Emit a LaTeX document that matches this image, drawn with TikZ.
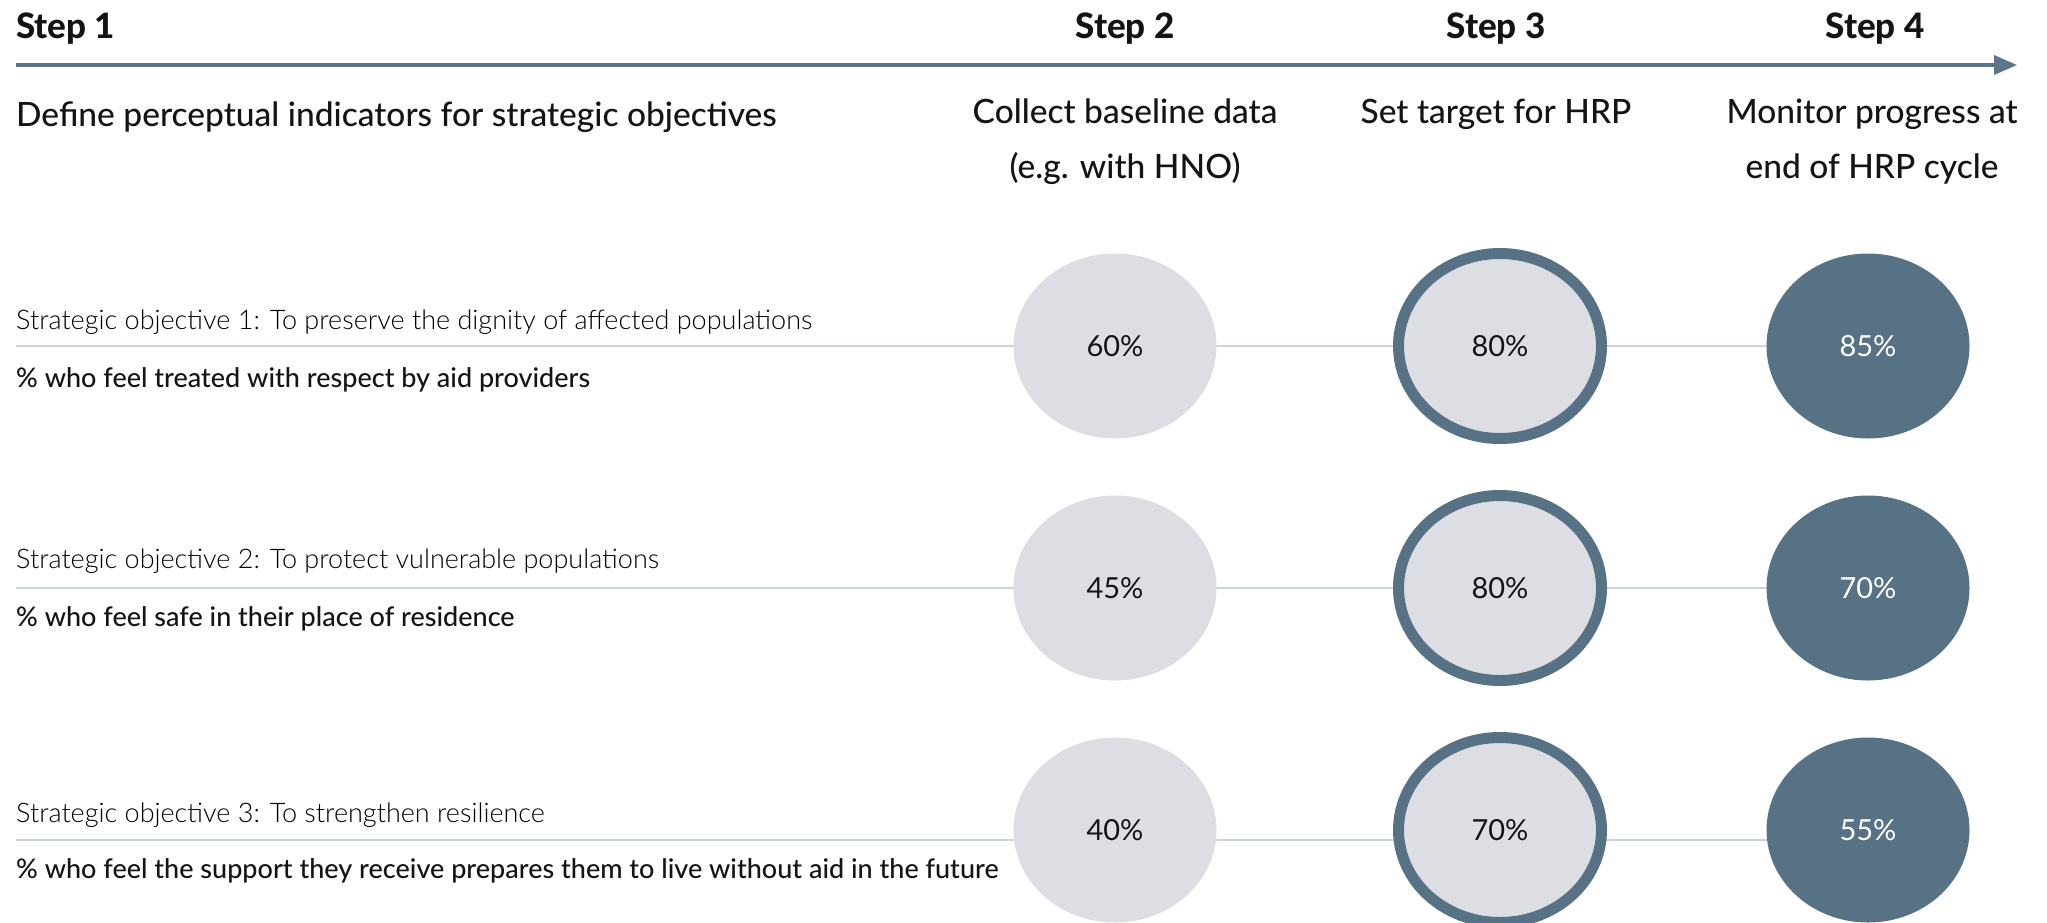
\documentclass[tikz,border=0pt]{standalone}
\usepackage{fontspec}
\setmainfont{Lato}
\newfontfamily\lightfont{Lato Light}
\newfontfamily\medfont{Lato Medium}
\newfontfamily\heavyfont{Lato Heavy}
\usetikzlibrary{shapes.geometric,arrows.meta}
\definecolor{slate}{HTML}{587285}
\definecolor{lightfill}{HTML}{DDDEE3}
\definecolor{rowcol}{HTML}{CBD3DC}
\definecolor{arrowcol}{HTML}{5C7588}
\definecolor{ink}{HTML}{141414}
\pgfdeclarelayer{bg}
\pgfsetlayers{bg,main}
\begin{document}
\begin{tikzpicture}[x=1pt,y=-1pt,
  stepl/.style={font=\heavyfont\fontsize{35}{42}\selectfont, inner sep=0, text=ink},
  head/.style={font=\medfont\fontsize{33.5}{40}\selectfont, inner sep=0, text=ink},
  objt/.style={font=\lightfont\fontsize{27}{32}\selectfont, anchor=base west, inner sep=0, text=black},
  indt/.style={font=\medfont\fontsize{27}{32}\selectfont, anchor=base west, inner sep=0, text=ink},
  circbase/.style={ellipse, minimum width=203pt, minimum height=185pt, inner sep=0, font=\fontsize{29}{34}\selectfont},
  basec/.style={circbase, fill=lightfill, text=ink},
  targetc/.style={circbase, fill=lightfill, draw=slate, line width=11pt, text=ink},
  progc/.style={circbase, fill=slate, text=white},
  rowline/.style={draw=rowcol, line width=2pt},
  timeline/.style={draw=arrowcol, line width=3.5pt, -{Triangle[length=23pt,width=19pt]}}]
\useasboundingbox (0,0) rectangle (2047,922);

% timeline
\coordinate (ts) at (16,65);
\coordinate (te) at (2017,65);
\draw[timeline] (ts) -- (te);

% step labels
\node[stepl, anchor=base west] (s1) at (16,38) {Step 1};
\node[stepl, anchor=base] (s2) at (1125,38) {Step 2};
\node[stepl, anchor=base] (s3) at (1496,38) {Step 3};
\node[stepl, anchor=base] (s4) at (1875,38) {Step 4};

% step descriptions
\node[head, anchor=base west] (h1) at (16,126) {Define perceptual indicators for strategic objectives};
\node[head, anchor=base] (h2a) at (1125,123) {Collect baseline data};
\node[head, anchor=base] (h2b) at (1125,178) {(e.g. with HNO)};
\node[head, anchor=base] (h3) at (1496,123) {Set target for HRP};
\node[head, anchor=base] (h4a) at (1872,123) {Monitor progress at};
\node[head, anchor=base] (h4b) at (1872,178) {end of HRP cycle};

% row texts
\node[objt] (o1) at (16,329) {Strategic objective 1: To preserve the dignity of affected populations};
\node[indt] (i1) at (16,387) {\% who feel treated with respect by aid providers};
\node[objt] (o2) at (16,568) {Strategic objective 2: To protect vulnerable populations};
\node[indt] (i2) at (16,626) {\% who feel safe in their place of residence};
\node[objt] (o3) at (16,822) {Strategic objective 3: To strengthen resilience};
\node[indt] (i3) at (16,878) {\% who feel the support they receive prepares them to live without aid in the future};

% circles
\node[basec] (b1) at (1115,346) {60\%};
\node[targetc] (t1) at (1500,346) {80\%};
\node[progc] (p1) at (1868,346) {85\%};
\node[basec] (b2) at (1115,588) {45\%};
\node[targetc] (t2) at (1500,588) {80\%};
\node[progc] (p2) at (1868,588) {70\%};
\node[basec] (b3) at (1115,830) {40\%};
\node[targetc] (t3) at (1500,830) {70\%};
\node[progc] (p3) at (1868,830) {55\%};

% row lines
\coordinate (r1) at (16,346);
\coordinate (r2) at (16,588);
\coordinate (r3) at (16,840);
\begin{pgfonlayer}{bg}
\draw[rowline] (r1) -- (p1.center |- r1);
\draw[rowline] (r2) -- (p2.center |- r2);
\draw[rowline] (r3) -- (p3.center |- r3);
\end{pgfonlayer}
\end{tikzpicture}
\end{document}
